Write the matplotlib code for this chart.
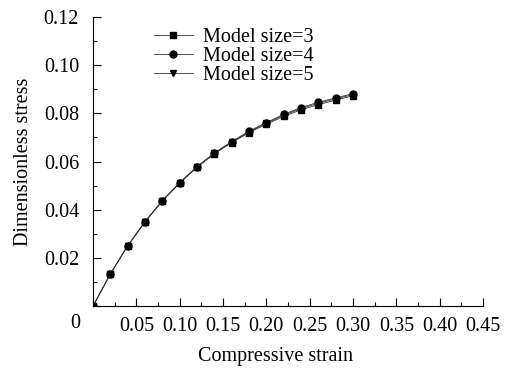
import matplotlib
matplotlib.use("Agg")
import matplotlib.pyplot as plt
from matplotlib.ticker import MultipleLocator, FuncFormatter

plt.rcParams['font.family'] = ['Liberation Serif', 'DejaVu Serif']

strain = [0.0, 0.02, 0.04, 0.06, 0.08, 0.10, 0.12, 0.14, 0.16, 0.18,
          0.20, 0.22, 0.24, 0.26, 0.28, 0.30]
stress_3 = [0.0, 0.0133, 0.0250, 0.0349, 0.0436, 0.0510, 0.0576, 0.0632, 0.0678, 0.0720,
            0.0755, 0.0787, 0.0815, 0.0836, 0.0855, 0.0873]
stress_4 = [0.0, 0.0134, 0.0251, 0.0351, 0.0438, 0.0513, 0.0579, 0.0636, 0.0683, 0.0726,
            0.0762, 0.0796, 0.0824, 0.0846, 0.0864, 0.0882]
stress_5 = [0.0, 0.0133, 0.0250, 0.0350, 0.0437, 0.0512, 0.0578, 0.0634, 0.0681, 0.0723,
            0.0759, 0.0792, 0.0820, 0.0842, 0.0860, 0.0878]
labels = ["Model size=3", "Model size=4", "Model size=5"]
markers = ["s", "o", "v"]

fs = 14.5

fig = plt.figure(figsize=(5.08, 3.68), dpi=100)
ax = fig.add_axes([0.183, 0.168, 0.768, 0.786])

for ys, lab, m in zip([stress_3, stress_4, stress_5], labels, markers):
    ax.plot(strain, ys, color="#333333", lw=0.6, marker=m, markersize=5,
            markerfacecolor="black", markeredgecolor="black", label=lab)

ax.set_xlim(0, 0.45)
ax.set_ylim(0, 0.12)
ax.xaxis.set_major_locator(MultipleLocator(0.05))
ax.xaxis.set_minor_locator(MultipleLocator(0.025))
ax.yaxis.set_major_locator(MultipleLocator(0.02))
ax.yaxis.set_minor_locator(MultipleLocator(0.01))
ax.xaxis.set_major_formatter(FuncFormatter(lambda v, p: "" if abs(v) < 1e-9 else "%.2f" % v))
ax.yaxis.set_major_formatter(FuncFormatter(lambda v, p: "" if abs(v) < 1e-9 else "%.2f" % v))
ax.tick_params(which="both", direction="in", labelsize=fs, width=0.8)
ax.tick_params(which="major", length=6)
ax.tick_params(which="minor", length=3)
ax.tick_params(axis="x", pad=8)
ax.tick_params(axis="y", pad=10)
for s in ["top", "right"]:
    ax.spines[s].set_visible(False)
for s in ["left", "bottom"]:
    ax.spines[s].set_linewidth(0.8)

ax.text(-0.021, -0.0072, "0", fontsize=fs, ha="center", va="center")

ax.set_xlabel("Compressive strain", fontsize=fs)
ax.xaxis.set_label_coords(0.469, -0.142)
ax.set_ylabel("Dimensionless stress", fontsize=fs, labelpad=8)

ax.legend(loc="upper left", bbox_to_anchor=(0.135, 0.99), frameon=False, fontsize=fs,
          handlelength=1.95, handletextpad=0.5, labelspacing=0.0, borderaxespad=0)

fig.savefig("out.png", dpi=100)
